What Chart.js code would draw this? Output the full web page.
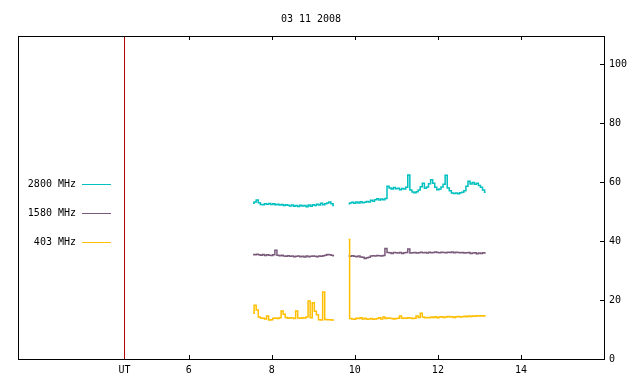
<!DOCTYPE html>
<html>
<head>
<meta charset="utf-8">
<script src="https://cdn.jsdelivr.net/npm/chart.js@4"></script>
<style>
  body { margin: 0; background: #fff; }
  canvas { display: block; }
</style>
</head>
<body>
<canvas id="radioChart" width="640" height="384"></canvas>
<script>
const titleText = '03 11 2008';

// UT hours, two observing runs with a gap between them
const hoursA = [7.55, 7.60, 7.65, 7.70, 7.75, 7.80, 7.85, 7.90, 7.95, 8.00,
                8.05, 8.10, 8.15, 8.20, 8.25, 8.30, 8.35, 8.40, 8.45, 8.50,
                8.55, 8.60, 8.65, 8.70, 8.75, 8.80, 8.85, 8.90, 8.95, 9.00,
                9.05, 9.10, 9.15, 9.20, 9.25, 9.30, 9.35, 9.40, 9.45, 9.50];
const hoursB = [9.85, 9.90, 9.95, 10.00, 10.05, 10.10, 10.15, 10.20, 10.25, 10.30,
                10.35, 10.40, 10.45, 10.50, 10.55, 10.60, 10.65, 10.70, 10.75, 10.80,
                10.85, 10.90, 10.95, 11.00, 11.05, 11.10, 11.15, 11.20, 11.25, 11.30,
                11.35, 11.40, 11.45, 11.50, 11.55, 11.60, 11.65, 11.70, 11.75, 11.80,
                11.85, 11.90, 11.95, 12.00, 12.05, 12.10, 12.15, 12.20, 12.25, 12.30,
                12.35, 12.40, 12.45, 12.50, 12.55, 12.60, 12.65, 12.70, 12.75, 12.80,
                12.85, 12.90, 12.95, 13.00, 13.05, 13.10, 13.15];

const mhz2800A = [52.8, 53.2, 53.9, 53.0, 52.4, 52.3, 52.6, 52.5, 52.7, 52.4,
                  52.6, 52.3, 52.5, 52.2, 52.4, 52.0, 52.3, 52.1, 51.9, 52.2,
                  51.8, 52.0, 51.7, 52.1, 51.9, 52.0, 51.6, 52.2, 51.8, 52.3,
                  52.0, 52.5, 52.2, 52.8, 52.3, 52.6, 52.9, 53.2, 52.6, 52.0];
const mhz2800B = [52.6, 52.9, 53.1, 52.8, 53.2, 52.9, 53.3, 53.0, 53.1, 53.4,
                  53.2, 53.8, 53.5, 54.0, 54.3, 53.9, 54.2, 54.0, 54.4, 58.6,
                  58.0, 57.6, 58.1, 57.7, 57.9, 57.4, 57.8, 57.6, 58.2, 62.4,
                  57.3, 56.6, 56.4, 56.7, 57.3, 58.4, 59.6, 57.9, 58.3, 59.4,
                  60.8, 59.6, 58.2, 57.4, 57.6, 58.3, 59.2, 62.3, 58.0, 57.0,
                  56.3, 56.1, 56.3, 56.0, 56.4, 56.5, 57.0, 58.6, 60.3, 59.3,
                  59.8, 59.2, 59.6, 58.8, 58.2, 57.3, 56.5];

const mhz1580A = [35.4, 35.3, 35.5, 35.3, 35.2, 35.4, 35.1, 35.3, 35.2, 35.1,
                  35.3, 36.9, 35.2, 35.0, 35.2, 34.9, 34.8, 35.0, 34.8, 34.9,
                  34.7, 34.8, 34.9, 34.7, 34.8, 34.6, 34.9, 34.7, 34.8, 34.9,
                  34.8, 34.7, 34.9, 34.8, 35.0, 35.2, 35.4, 35.3, 35.2, 35.0];
const mhz1580B = [34.9, 34.8, 35.0, 34.8, 34.7, 34.9, 34.6, 34.5, 34.1, 34.3,
                  34.5, 34.9, 35.0, 34.9, 35.1, 35.0, 34.9, 35.1, 37.5, 36.1,
                  36.0, 35.8, 36.1, 36.0, 35.9, 36.1, 35.8, 36.0, 36.1, 37.3,
                  35.9, 36.0, 36.1, 35.9, 36.0, 36.2, 36.0, 36.1, 35.9, 36.2,
                  36.0, 36.1, 36.3, 36.1, 36.0, 36.2, 36.1, 36.0, 36.2, 36.1,
                  36.3, 36.0, 36.2, 36.1, 36.0, 36.1, 35.9, 36.0, 36.1, 35.8,
                  35.9, 36.0, 35.7, 35.9, 35.8, 36.0, 35.9];

const mhz403A = [15.5, 18.2, 16.6, 14.2, 13.9, 13.8, 13.6, 14.6, 13.2, 13.3,
                 13.8, 13.9, 13.7, 14.0, 16.3, 15.2, 14.1, 13.8, 14.0, 13.9,
                 13.7, 16.3, 13.9, 13.8, 14.0, 13.9, 14.2, 19.7, 14.0, 19.1,
                 16.2, 15.0, 13.3, 13.2, 22.7, 13.4, 13.3, 13.3, 13.2, 13.2];
const mhz403B = [40.5, 13.7, 13.6, 13.5, 13.8, 13.7, 14.0, 13.6, 13.8, 13.5,
                 13.6, 13.7, 13.5, 13.6, 13.7, 14.0, 13.6, 14.2, 13.7, 13.9,
                 13.8, 13.7, 13.6, 13.7, 13.8, 14.6, 13.8, 13.9, 13.8, 14.0,
                 13.9, 13.7, 13.8, 14.6, 14.1, 15.5, 14.2, 14.0, 14.1, 14.0,
                 14.2, 14.1, 14.3, 14.0, 14.2, 14.3, 14.1, 14.2, 14.4, 14.2,
                 14.3, 14.1, 14.3, 14.4, 14.2, 14.3, 14.5, 14.3, 14.6, 14.4,
                 14.6, 14.5, 14.7, 14.6, 14.7, 14.6, 14.7];

const seriesNames = ['2800 MHz', '1580 MHz', '403 MHz'];
const seriesColors = ['#00c0c0', '#7a5a7a', '#ffbf00'];

const utHour = 4.455;
const xMin = 1.89;
const xMax = 16;
const yMin = 0;
const yMax = 109.5;
const xTickValues = [utHour, 6, 8, 10, 12, 14];
const xTickLabels = ['UT', '6', '8', '10', '12', '14'];
const yTickValues = [0, 20, 40, 60, 80, 100];

const FONT = '10px "DejaVu Sans Mono", monospace';

function joinRuns(valsA, valsB) {
    const pts = [];
    hoursA.forEach((h, i) => pts.push({ x: h, y: valsA[i] }));
    // break the line between the two runs
    pts.push({ x: (hoursA[hoursA.length - 1] + hoursB[0]) / 2, y: null });
    hoursB.forEach((h, i) => pts.push({ x: h, y: valsB[i] }));
    return pts;
}

// frame, inward ticks, title and the legend the way gnuplot draws them
const framePlugin = {
    id: 'frame',
    afterDraw(chart) {
        const ctx = chart.ctx;
        const area = chart.chartArea;
        const xs = chart.scales.x;
        const ys = chart.scales.y;
        const tick = 4;

        ctx.save();
        ctx.strokeStyle = '#000';
        ctx.lineWidth = 1;
        ctx.strokeRect(area.left + 0.5, area.top + 0.5, area.right - area.left, area.bottom - area.top);

        ctx.beginPath();
        xTickValues.forEach(v => {
            if (v === utHour) return;
            const px = Math.round(xs.getPixelForValue(v)) + 0.5;
            ctx.moveTo(px, area.bottom);
            ctx.lineTo(px, area.bottom - tick);
            ctx.moveTo(px, area.top);
            ctx.lineTo(px, area.top + tick);
        });
        yTickValues.forEach(v => {
            const py = Math.round(ys.getPixelForValue(v)) + 0.5;
            ctx.moveTo(area.right, py);
            ctx.lineTo(area.right - tick, py);
        });
        ctx.stroke();

        ctx.font = FONT;
        ctx.fillStyle = '#000';
        ctx.textAlign = 'center';
        ctx.textBaseline = 'middle';
        ctx.fillText(titleText, 311, 19.5);

        seriesNames.forEach((name, i) => {
            const y = 184 + i * 29;
            ctx.textAlign = 'right';
            ctx.fillStyle = '#000';
            ctx.fillText(name, 76, y + 0.5);
            ctx.strokeStyle = seriesColors[i];
            ctx.beginPath();
            ctx.moveTo(82, y + 0.5);
            ctx.lineTo(111, y + 0.5);
            ctx.stroke();
        });
        ctx.restore();
    }
};

const series = [joinRuns(mhz2800A, mhz2800B), joinRuns(mhz1580A, mhz1580B), joinRuns(mhz403A, mhz403B)];

const datasets = series.map((pts, i) => ({
    label: seriesNames[i],
    data: pts,
    borderColor: seriesColors[i],
    borderWidth: 1.5,
    pointRadius: 0,
    stepped: 'middle',
    spanGaps: false,
    fill: false,
    order: 3 - i
}));

datasets.push({
    label: 'UT',
    data: [{ x: utHour, y: yMin }, { x: utHour, y: yMax }],
    borderColor: '#b00000',
    borderWidth: 1,
    pointRadius: 0,
    fill: false,
    order: 5
});

const ctx1 = document.getElementById('radioChart').getContext('2d');
const radioChart = new Chart(ctx1, {
    type: 'line',
    data: { datasets: datasets },
    options: {
        responsive: false,
        animation: false,
        layout: { padding: { top: 36, left: 18, right: 0, bottom: 0 } },
        plugins: {
            legend: { display: false },
            title: { display: false },
            tooltip: { enabled: false }
        },
        scales: {
            x: {
                type: 'linear',
                position: 'bottom',
                min: xMin,
                max: xMax,
                grid: { display: false, drawTicks: false },
                border: { display: false },
                afterBuildTicks: axis => { axis.ticks = xTickValues.map(v => ({ value: v })); },
                afterFit: axis => { axis.height = 25; },
                ticks: {
                    autoSkip: false,
                    maxRotation: 0,
                    padding: 5,
                    color: '#000',
                    font: { family: '"DejaVu Sans Mono", monospace', size: 10 },
                    callback: (value, index) => xTickLabels[index]
                }
            },
            y: {
                type: 'linear',
                position: 'right',
                min: yMin,
                max: yMax,
                grid: { display: false, drawTicks: false },
                border: { display: false },
                afterBuildTicks: axis => { axis.ticks = yTickValues.map(v => ({ value: v })); },
                afterFit: axis => { axis.width = 36; },
                ticks: {
                    padding: 5,
                    color: '#000',
                    font: { family: '"DejaVu Sans Mono", monospace', size: 10 },
                    callback: value => String(value)
                }
            }
        }
    },
    plugins: [framePlugin]
});
</script>
</body>
</html>
